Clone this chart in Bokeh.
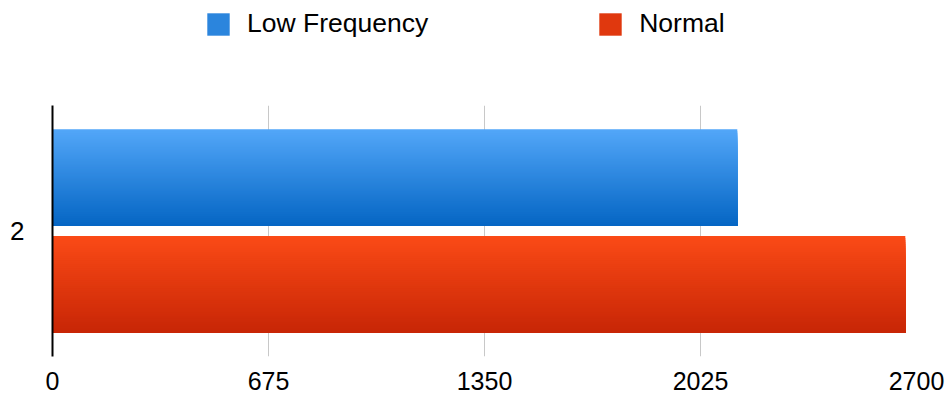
from bokeh.plotting import figure
from bokeh.layouts import column
from bokeh.models import Range1d, FixedTicker, Legend, LegendItem, ColumnDataSource
from bokeh.embed import file_html
from bokeh.resources import INLINE

# ---- data ----
categories = ["2"]
series_names = ["Low Frequency", "Normal"]
low_frequency = [2140]
normal = [2665]
x_ticks = [0, 675, 1350, 2025, 2700]

# ---- style ----
FONT = "Liberation Sans"
FONT_SIZE = "25px"
LEGEND_FONT_SIZE = "26.5px"
gradients = [("#52A6F8", "#0566C4"), ("#FA4A16", "#C82606")]  # top -> bottom
offsets = [0.2125, -0.2125]
BAR_H = 0.385
N_STRIPES = 48
W, H = 950, 396
LEGEND_H = 50
FRAME_LEFT = 52


def hex_to_rgb(h):
    h = h.lstrip("#")
    return tuple(int(h[i:i + 2], 16) for i in (0, 2, 4))


def blend(c1, c2, t):
    a, b = hex_to_rgb(c1), hex_to_rgb(c2)
    return "#%02x%02x%02x" % tuple(round(x + (y - x) * t) for x, y in zip(a, b))


p = figure(width=W, height=H - LEGEND_H, output_backend="svg", toolbar_location=None,
           x_range=Range1d(0, 2700), y_range=Range1d(-0.5, 0.5),
           min_border_left=FRAME_LEFT, min_border_right=34,
           min_border_top=105 - LEGEND_H, min_border_bottom=40)
p.outline_line_color = None
p.background_fill_color = "white"
p.border_fill_color = "white"

cat_pos = [-i for i in range(len(categories))]

sources = []
for name, values, (c_top, c_bot), off in zip(series_names, [low_frequency, normal], gradients, offsets):
    left, right, top, bottom, color = [], [], [], [], []
    for pos, v in zip(cat_pos, values):
        y_top = pos + off + BAR_H / 2
        y_bot = pos + off - BAR_H / 2
        # vertical gradient: stacked stripes, each running down to the bar's bottom
        for i in range(N_STRIPES):
            left.append(0)
            right.append(v)
            top.append(y_top - BAR_H * i / N_STRIPES)
            bottom.append(y_bot)
            color.append(blend(c_top, c_bot, i / (N_STRIPES - 1)))
    src = ColumnDataSource(dict(left=left, right=right, top=top, bottom=bottom, color=color))
    sources.append(src)
    p.quad(left="left", right="right", top="top", bottom="bottom", source=src,
           fill_color="color", line_color=None)

# x axis: labels only, light vertical grid
p.xaxis.ticker = FixedTicker(ticks=x_ticks)
p.xaxis.axis_line_color = None
p.xaxis.major_tick_line_color = None
p.xaxis.minor_tick_line_color = None
p.xaxis.major_label_text_font = FONT
p.xaxis.major_label_text_font_size = FONT_SIZE
p.xaxis.major_label_text_color = "black"
p.xaxis.major_label_standoff = 9
p.xgrid.ticker = FixedTicker(ticks=x_ticks)
p.xgrid.grid_line_color = "#c8c8c8"
p.xgrid.grid_line_width = 1

# y axis: one category
p.ygrid.grid_line_color = None
p.yaxis.ticker = FixedTicker(ticks=cat_pos)
p.yaxis.major_label_overrides = {pos: c for pos, c in zip(cat_pos, categories)}
p.yaxis.axis_line_color = "black"
p.yaxis.axis_line_width = 2
p.yaxis.major_tick_line_color = None
p.yaxis.minor_tick_line_color = None
p.yaxis.major_label_text_font = FONT
p.yaxis.major_label_text_font_size = "26px"
p.yaxis.major_label_text_color = "black"
p.yaxis.major_label_standoff = 22

# legend strip across the top; its renderers share the bar sources but its
# ranges lie outside the data, so only the legend itself shows
lg = figure(width=W, height=LEGEND_H, output_backend="svg", toolbar_location=None,
            x_range=Range1d(-20000, -10000), y_range=Range1d(-0.5, 0.5),
            min_border=0, x_axis_type=None, y_axis_type=None)
lg.outline_line_color = None
lg.xgrid.visible = False
lg.ygrid.visible = False
items = []
for name, src in zip(series_names, sources):
    r = lg.quad(left="left", right="right", top="top", bottom="bottom", source=src,
                fill_color="color", line_color=None)
    items.append(LegendItem(label=name, renderers=[r], index=N_STRIPES // 2))

legend = Legend(items=items, orientation="horizontal", location=(204 - FRAME_LEFT, 11),
                border_line_color=None, background_fill_alpha=0,
                padding=0, margin=0, glyph_width=28, glyph_height=28,
                label_standoff=15, spacing=168,
                label_text_font=FONT, label_text_font_size=LEGEND_FONT_SIZE,
                label_text_color="black")
lg.add_layout(legend)

open("out.html", "w").write(file_html(column(lg, p, spacing=0), INLINE))
